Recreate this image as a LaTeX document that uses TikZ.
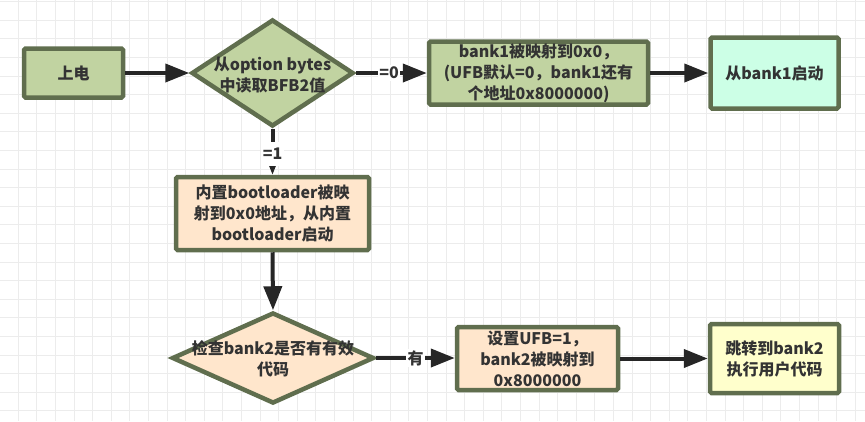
\documentclass[tikz,border=0pt]{standalone}
\usepackage{fontspec}
\setmainfont{Noto Sans CJK SC}
\usepackage{xcolor}
\usetikzlibrary{shapes.geometric, arrows.meta, positioning}

\definecolor{boxedge}{RGB}{96,110,78}
\definecolor{greenfill}{RGB}{193,211,161}
\definecolor{peachfill}{RGB}{255,230,204}
\definecolor{mintfill}{RGB}{204,255,230}
\definecolor{lemonfill}{RGB}{255,255,204}
\definecolor{txtgray}{RGB}{51,51,51}
\definecolor{arrowgray}{RGB}{38,38,38}
\definecolor{gridgray}{RGB}{236,236,236}

\begin{document}
\begin{tikzpicture}[x=1pt, y=-1pt,
    box/.style={draw=boxedge, line width=4.5pt, rounded corners=1.5pt, inner sep=0pt,
        align=center, text=txtgray, font=\fontsize{16}{21}\selectfont\bfseries},
    dia/.style={draw=boxedge, line width=4.5pt, diamond, inner sep=0pt},
    txt/.style={align=center, text=txtgray, font=\fontsize{16}{21}\selectfont\bfseries},
    flow/.style={draw=arrowgray, line width=4pt, -{Triangle[length=24pt, width=18pt]}},
    lbl/.style={fill=white, text=txtgray, font=\fontsize{16}{16}\selectfont\bfseries, inner sep=1.5pt}]

\useasboundingbox (0,0) rectangle (865,421);

% Background grid
\foreach \gx in {0,...,46} {
    \draw[gridgray, line width=1pt] (\gx*18.6+18.3, 0) -- ++(0, 421);
}
\foreach \gy in {0,...,22} {
    \draw[gridgray, line width=1pt] (0, \gy*18.6+1.7) -- ++(865, 0);
}

% Top row
\node[box, fill=greenfill, minimum width=99pt, minimum height=49pt] (pwr) at (73.5,73) {上电};
\node[dia, fill=greenfill, minimum width=162pt, minimum height=107pt] (rdopt) at (272.5,73) {};
\node[txt] (rdopttxt) at (272.5,75) {从option bytes\\中读取BFB2值};
\node[box, fill=greenfill, minimum width=219pt, minimum height=63pt] (bankmap) at (538.5,73)
    {bank1被映射到0x0，\\(UFB默认=0，bank1还有\\个地址0x8000000)};
\node[box, fill=mintfill, minimum width=128pt, minimum height=71pt] (bankboot) at (774.5,73) {从bank1启动};

% Middle
\node[box, fill=peachfill, minimum width=193pt, minimum height=73pt] (blmap) at (272.5,213.5)
    {内置bootloader被映\\射到0x0地址，从内置\\bootloader启动};

% Bottom row
\node[dia, fill=peachfill, minimum width=202pt, minimum height=91pt] (chkbank) at (273,358) {};
\node[txt] (chkbanktxt) at (273,359) {检查bank2是否有有效\\代码};
\node[box, fill=peachfill, minimum width=161pt, minimum height=63pt] (setufb) at (537.5,358.5)
    {设置UFB=1，\\bank2被映射到\\0x8000000};
\node[box, fill=lemonfill, minimum width=129pt, minimum height=69pt] (jmpbank) at (774.5,358.5)
    {跳转到bank2\\执行用户代码};

% Connectors
\draw[flow] (pwr.east) -- (rdopt.west);
\draw[flow] (rdopt.east) -- node[lbl, pos=0.47] (lzero) {=0} (bankmap.west);
\draw[flow] (bankmap.east) -- (bankboot.west |- bankmap.east);
\draw[flow] (rdopt.south) -- node[lbl, pos=0.55, minimum height=24pt] (lone) {=1} (blmap.north);
\draw[flow] (blmap.south) -- (chkbank.north);
\draw[flow] (chkbank.east) -- node[lbl, pos=0.5] (lyes) {有} (setufb.west |- chkbank.east);
\draw[flow] (setufb.east) -- (jmpbank.west |- setufb.east);

\end{tikzpicture}
\end{document}
